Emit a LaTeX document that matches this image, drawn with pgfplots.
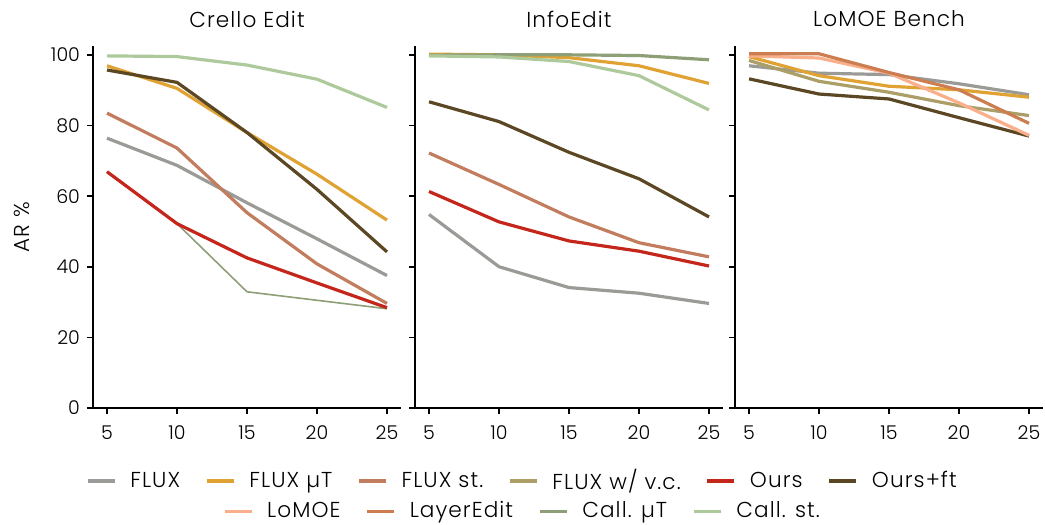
\documentclass[border=0pt]{standalone}
\usepackage{fontspec}
\setmainfont{Poppins Light}
\newfontfamily\wide{Poppins Light}[LetterSpace=5]
\usepackage{pgfplots}
\pgfplotsset{compat=1.18}
\definecolor{cflux}{HTML}{9A9A96}
\definecolor{cfluxmu}{HTML}{E0A232}
\definecolor{cfluxst}{HTML}{C27C5E}
\definecolor{cfluxvc}{HTML}{AB9E66}
\definecolor{cours}{HTML}{C4261C}
\definecolor{coursft}{HTML}{5B4723}
\definecolor{clomoe}{HTML}{F9AE8C}
\definecolor{clayer}{HTML}{CD7E50}
\definecolor{ccallmu}{HTML}{8E9F78}
\definecolor{ccallst}{HTML}{AECA9C}
\newcommand{\fs}{\fontsize{9.5}{11}\selectfont}
\newcommand{\fl}{\wide\fontsize{10.8}{12}\selectfont}
\pgfplotsset{
 panel/.style={
  scale only axis, width=154pt, height=181pt, anchor=south west,
  xmin=4, xmax=26, ymin=0, ymax=102.5,
  axis x line*=bottom, axis y line*=left,
  axis line style={line width=1pt, black},
  xtick={5,10,15,20,25}, ytick={0,20,40,60,80,100},
  tick align=outside, major tick length=3pt,
  tick style={line width=0.8pt, black},
  tick label style={font=\fs},
  xticklabel shift=2.5pt,
  /pgf/number format/assume math mode=true,
  clip mode=individual,
  every axis plot/.append style={line width=1.6pt, no markers, line join=round},
 },
 leg/.style={
  at={(0,0)}, anchor=south west, scale only axis, width=522.5pt, height=262.5pt,
  xmin=0, xmax=1, ymin=0, ymax=1, hide axis,
  legend image code/.code={\draw[##1, line width=1.6pt] (0pt,0pt) -- (13.5pt,0pt);},
  legend style={draw=none, fill=none, font=\fl, anchor=center,
   /tikz/every odd column/.append style={column sep=5pt},
   /tikz/every even column/.append style={column sep=10.5pt}},
 }
}
\begin{document}
\begin{tikzpicture}
\path[use as bounding box] (0,0) rectangle (522.5pt,262.5pt);
% Panel 1
\begin{axis}[panel, at={(46.5pt,58.5pt)}, ylabel={AR \%}, ylabel style={font=\fl}, ylabel shift=4pt]
\addplot[cflux] coordinates {(5,76.4) (10,68.7) (15,58.1) (20,47.9) (25,37.5)};
\addplot[cfluxmu] coordinates {(5,96.9) (10,90.5) (15,78.0) (20,66.2) (25,53.2)};
\addplot[cfluxst] coordinates {(5,83.5) (10,73.6) (15,55.3) (20,40.8) (25,29.6)};
\addplot[ccallmu, line width=0.8pt] coordinates {(5,66.9) (10,52.2) (15,32.9) (20,30.5) (25,28.1)};
\addplot[cours] coordinates {(5,66.9) (10,52.2) (15,42.5) (20,35.4) (25,28.4)};
\addplot[coursft] coordinates {(5,95.7) (10,92.2) (15,78.0) (20,61.9) (25,44.2)};
\addplot[ccallst] coordinates {(5,99.7) (10,99.5) (15,97.1) (20,93.1) (25,85.1)};
\node[font=\fl, anchor=center, yshift=13.5pt] at (rel axis cs:0.5,1) {Crello Edit};
\end{axis}
% Panel 2
\begin{axis}[panel, at={(207.5pt,58.5pt)}, yticklabels={}]
\addplot[cflux] coordinates {(5,54.8) (10,40.0) (15,34.1) (20,32.5) (25,29.6)};
\addplot[cfluxmu] coordinates {(5,100.2) (10,100) (15,99.2) (20,96.9) (25,91.9)};
\addplot[cfluxst] coordinates {(5,72.2) (10,63.3) (15,54.1) (20,46.8) (25,42.8)};
\addplot[cours] coordinates {(5,61.3) (10,52.7) (15,47.3) (20,44.4) (25,40.2)};
\addplot[coursft] coordinates {(5,86.7) (10,81.1) (15,72.4) (20,64.9) (25,54.1)};
\addplot[ccallmu] coordinates {(5,99.9) (10,100) (15,100) (20,99.8) (25,98.6)};
\addplot[ccallst] coordinates {(5,99.7) (10,99.4) (15,98.1) (20,94.1) (25,84.4)};
\node[font=\fl, anchor=center, yshift=13.5pt] at (rel axis cs:0.5,1) {InfoEdit};
\end{axis}
% Panel 3
\begin{axis}[panel, at={(367.5pt,58.5pt)}, yticklabels={}]
\addplot[cflux] coordinates {(5,96.9) (10,94.8) (15,94.4) (20,91.8) (25,88.7)};
\addplot[cfluxmu] coordinates {(5,99.5) (10,94.1) (15,91.1) (20,90.1) (25,88.0)};
\addplot[cfluxvc] coordinates {(5,98.4) (10,92.5) (15,89.4) (20,85.6) (25,82.8)};
\addplot[coursft] coordinates {(5,93.2) (10,88.9) (15,87.5) (20,82.2) (25,77.0)};
\addplot[clomoe] coordinates {(5,99.7) (10,99.1) (15,94.8) (20,86.4) (25,77.2)};
\addplot[clayer] coordinates {(5,100.3) (10,100.3) (15,95.0) (20,90.1) (25,80.6)};
\node[font=\fl, anchor=center, yshift=13.5pt] at (rel axis cs:0.5,1) {LoMOE Bench};
\end{axis}
% Legend row 1
\begin{axis}[leg, legend columns=6, legend style={at={(0.5009,0.0838)}}]
\addlegendimage{cflux}\addlegendentry{FLUX}
\addlegendimage{cfluxmu}\addlegendentry{FLUX µT}
\addlegendimage{cfluxst}\addlegendentry{FLUX st.}
\addlegendimage{cfluxvc}\addlegendentry{FLUX w/ v.c.}
\addlegendimage{cours}\addlegendentry{Ours}
\addlegendimage{coursft}\addlegendentry{Ours+ft}
\end{axis}
% Legend row 2
\begin{axis}[leg, legend columns=4, legend style={at={(0.5009,0.026)}}]
\addlegendimage{clomoe}\addlegendentry{LoMOE}
\addlegendimage{clayer}\addlegendentry{LayerEdit}
\addlegendimage{ccallmu}\addlegendentry{Call. µT}
\addlegendimage{ccallst}\addlegendentry{Call. st.}
\end{axis}
\end{tikzpicture}
\end{document}
